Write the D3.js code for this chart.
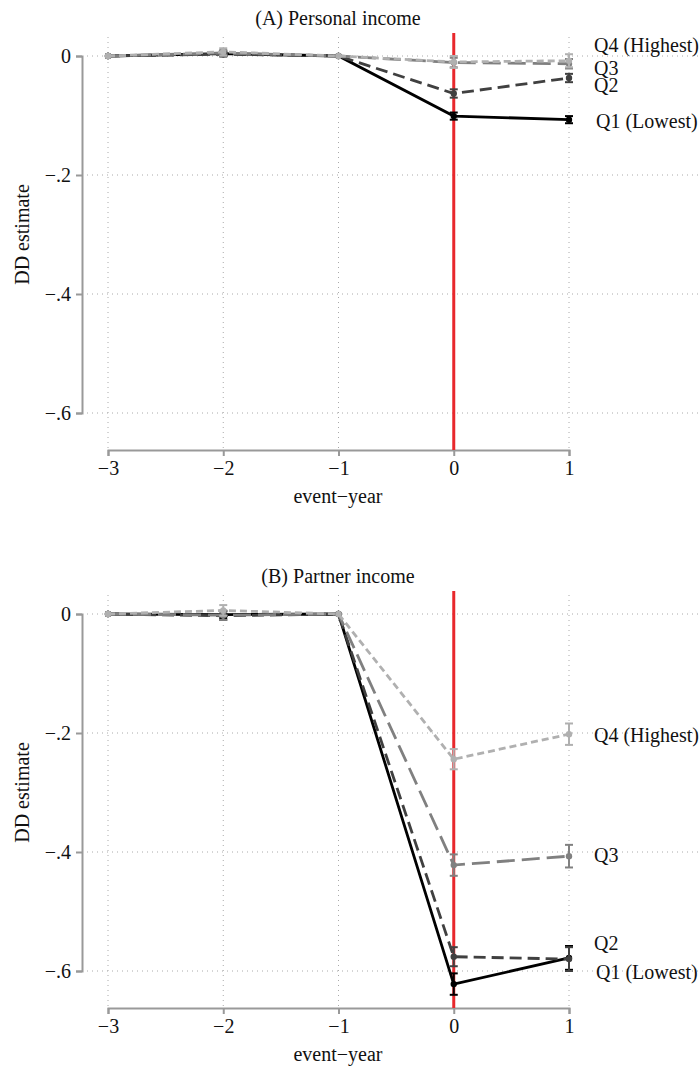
<!DOCTYPE html>
<html><head><meta charset="utf-8">
<script src="https://cdn.jsdelivr.net/npm/d3@7"></script>
<style>body{margin:0;background:#fff}svg{display:block}text{font-family:"Liberation Serif","Times New Roman",serif;fill:#111}</style>
</head><body>
<script>
const years = [-3, -2, -1, 0, 1];
const xTicks = [-3, -2, -1, 0, 1];
const yTicks = [0, -0.2, -0.4, -0.6];
const groups = ["Q1 (Lowest)", "Q2", "Q3", "Q4 (Highest)"];
// Panel A: personal income
const A_Q1 = [0, 0.004, 0, -0.101, -0.107];
const A_Q2 = [0, 0.003, 0, -0.063, -0.037];
const A_Q3 = [0, 0.005, 0, -0.011, -0.013];
const A_Q4 = [0, 0.007, 0, -0.010, -0.008];
const A_Q1_ci = [0, 0.004, 0, 0.006, 0.006];
const A_Q2_ci = [0, 0.004, 0, 0.007, 0.007];
const A_Q3_ci = [0, 0.005, 0, 0.008, 0.008];
const A_Q4_ci = [0, 0.006, 0, 0.010, 0.011];
// Panel B: partner income
const B_Q1 = [0, -0.001, 0, -0.622, -0.578];
const B_Q2 = [0, -0.003, 0, -0.576, -0.580];
const B_Q3 = [0, -0.002, 0, -0.422, -0.407];
const B_Q4 = [0, 0.006, 0, -0.244, -0.202];
const B_Q1_ci = [0, 0.006, 0, 0.018, 0.020];
const B_Q2_ci = [0, 0.007, 0, 0.016, 0.020];
const B_Q3_ci = [0, 0.008, 0, 0.018, 0.019];
const B_Q4_ci = [0, 0.009, 0, 0.017, 0.018];

const styles = [
  {color:"#000000", dash:null},
  {color:"#404040", dash:"12,6"},
  {color:"#808080", dash:"18,7"},
  {color:"#b0b0b0", dash:"7,4"}
];

const W = 700, H = 1071;
const svg = d3.select("body").append("svg").attr("width", W).attr("height", H);

function panel(top, title, series, cis, labelYs) {
  const g = svg.append("g").attr("transform", `translate(0,${top})`);
  const x = d3.scaleLinear().domain([-3, 1]).range([108, 569]);
  const y = d3.scaleLinear().domain([0, -0.6]).range([38, 395]);
  const plotTop = 15, gridTop = 19, axisY = 432;

  g.append("text").attr("x", 338).attr("y", 7).attr("text-anchor", "middle")
    .attr("font-size", 20).text(title);

  // gridlines
  g.selectAll(".hg").data(yTicks).enter().append("line")
    .attr("x1", 87).attr("x2", W).attr("y1", d => y(d)).attr("y2", d => y(d))
    .attr("stroke", "#aaa").attr("stroke-width", 1).attr("stroke-dasharray", "1,4");
  g.selectAll(".vg").data(xTicks).enter().append("line")
    .attr("x1", d => x(d)).attr("x2", d => x(d)).attr("y1", gridTop).attr("y2", axisY)
    .attr("stroke", "#aaa").attr("stroke-width", 1).attr("stroke-dasharray", "1,4");

  // axes
  const yAxis = d3.axisLeft(y).tickValues(yTicks).tickSize(6).tickPadding(5)
    .tickFormat(d => d === 0 ? "0" : "\u2212" + d3.format(".1f")(-d).replace(/^0/, ""));
  const ya = g.append("g").attr("transform", "translate(82,0)").call(yAxis);
  const xAxis = d3.axisBottom(x).tickValues(xTicks).tickSize(6).tickPadding(5)
    .tickFormat(d => d < 0 ? "\u2212" + (-d) : String(d));
  const xa = g.append("g").attr("transform", `translate(0,${axisY})`).call(xAxis);
  [ya, xa].forEach(a => {
    a.select(".domain").attr("stroke", "#999").attr("stroke-width", 2);
    a.selectAll(".tick line").attr("stroke", "#999").attr("stroke-width", 2);
    a.selectAll(".tick text").attr("font-size", 20).attr("fill", "#111")
      .attr("font-family", "Liberation Serif, serif");
  });

  g.append("text").attr("x", 338).attr("y", axisY + 53).attr("text-anchor", "middle")
    .attr("font-size", 20).text("event\u2212year");
  g.append("text").attr("transform", `translate(29,${(y(0) + y(-0.6)) / 2}) rotate(-90)`)
    .attr("text-anchor", "middle").attr("font-size", 20).text("DD estimate");

  // red event line
  g.append("line").attr("x1", x(0)).attr("x2", x(0)).attr("y1", plotTop).attr("y2", axisY)
    .attr("stroke", "#e8282c").attr("stroke-width", 3);

  const line = d3.line().x((d, i) => x(years[i])).y(d => y(d));
  series.forEach((s, k) => {
    const st = styles[k];
    const sg = g.append("g");
    sg.append("path").attr("d", line(s)).attr("fill", "none")
      .attr("stroke", st.color).attr("stroke-width", 2.8)
      .attr("stroke-dasharray", st.dash);
    s.forEach((v, i) => {
      const c = cis[k][i];
      if (c > 0) {
        const xi = x(years[i]);
        sg.append("line").attr("x1", xi).attr("x2", xi).attr("y1", y(v - c)).attr("y2", y(v + c))
          .attr("stroke", st.color).attr("stroke-width", 2);
        [v - c, v + c].forEach(e => sg.append("line").attr("x1", xi - 4).attr("x2", xi + 4)
          .attr("y1", y(e)).attr("y2", y(e)).attr("stroke", st.color).attr("stroke-width", 2));
      }
    });
    sg.selectAll("circle").data(s).enter().append("circle")
      .attr("cx", (d, i) => x(years[i])).attr("cy", d => y(d)).attr("r", 3.2)
      .attr("fill", st.color);
  });

  // labels (centres given in page coordinates)
  groups.forEach((name, k) => {
    g.append("text").attr("x", name === "Q1 (Lowest)" ? 596 : 594).attr("y", labelYs[k] - top + 7)
      .attr("font-size", 20).text(name);
  });
}

panel(18, "(A) Personal income", [A_Q1, A_Q2, A_Q3, A_Q4], [A_Q1_ci, A_Q2_ci, A_Q3_ci, A_Q4_ci], [121, 85, 68, 45]);
panel(576, "(B) Partner income", [B_Q1, B_Q2, B_Q3, B_Q4], [B_Q1_ci, B_Q2_ci, B_Q3_ci, B_Q4_ci], [972, 943, 855, 735]);
</script>
</body></html>
